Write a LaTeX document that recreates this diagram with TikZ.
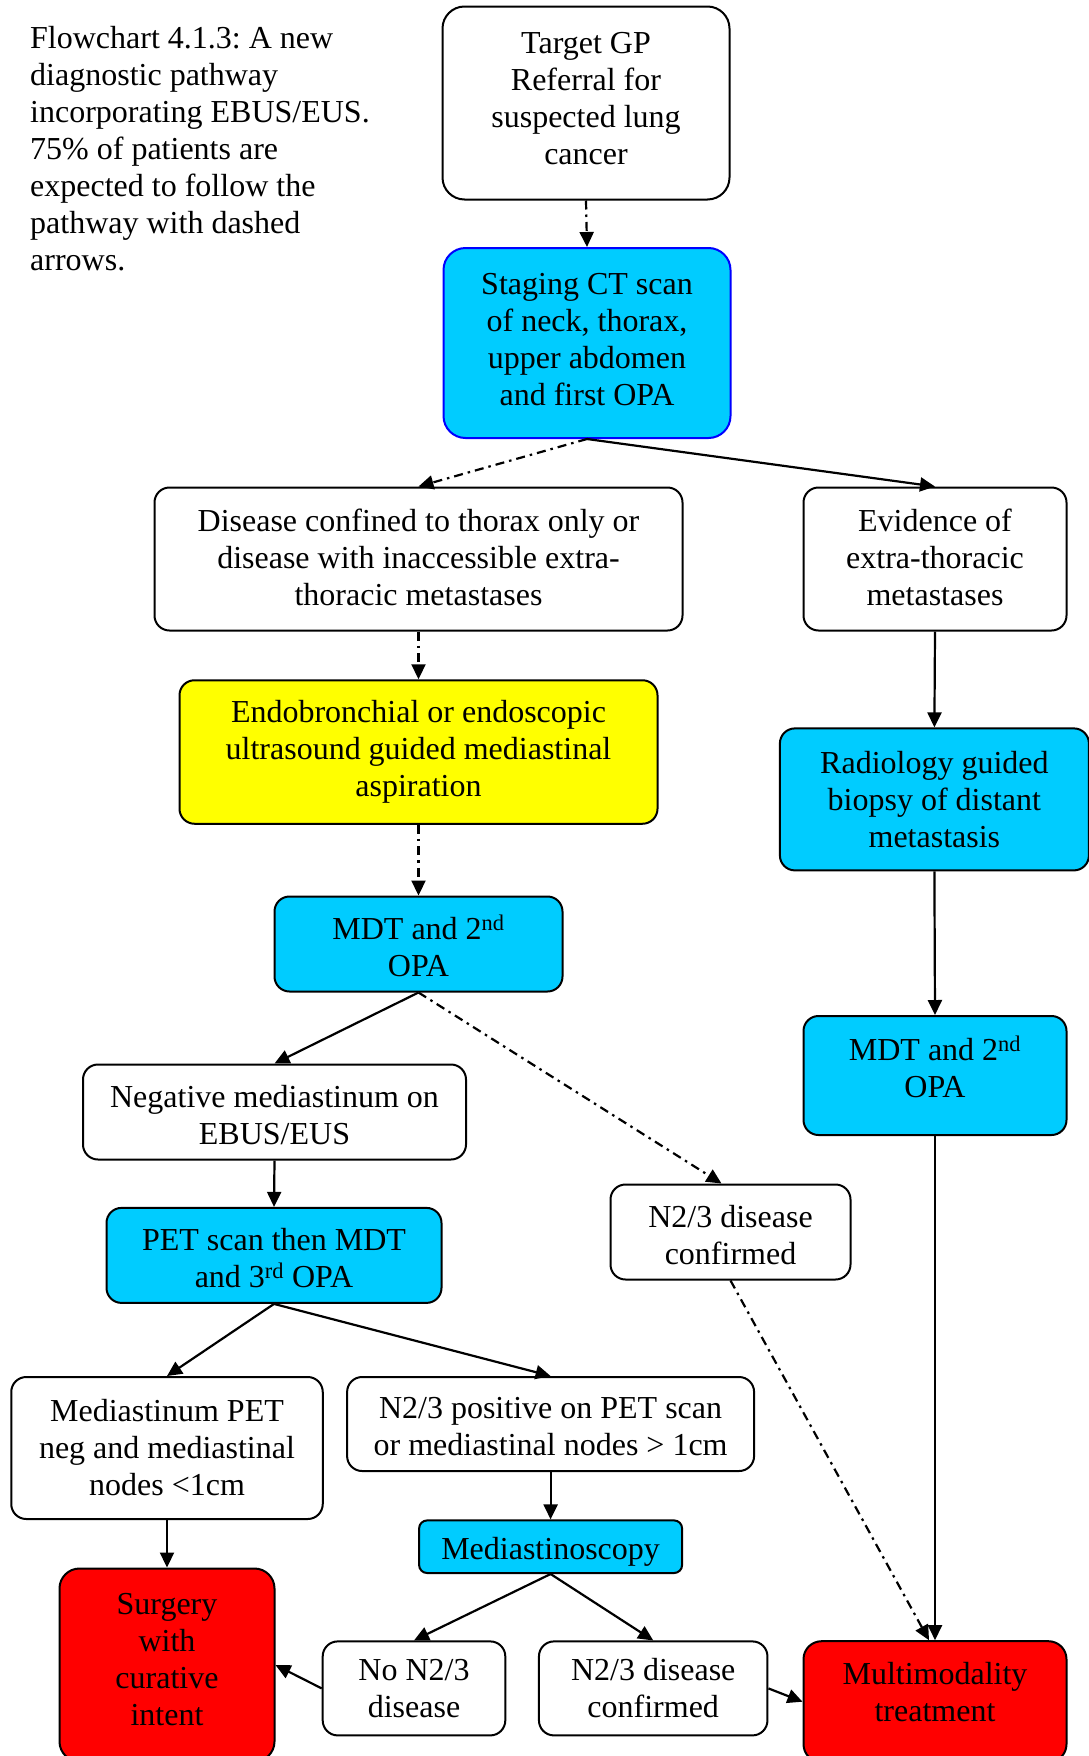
\documentclass[tikz,border=0pt]{standalone}
\usepackage{fontspec}
\setmainfont{Liberation Serif}
\usetikzlibrary{arrows.meta}
\definecolor{cyanfill}{RGB}{0,204,255}
\definecolor{yelfill}{RGB}{255,255,0}
\definecolor{redfill}{RGB}{255,0,0}
\definecolor{blueline}{RGB}{0,0,255}
\newcommand{\liftup}[2]{\raisebox{#1}[\height][\depth]{\begin{tabular}{@{}c@{}}#2\end{tabular}}}
\frenchspacing
\begin{document}
\begin{tikzpicture}[x=1pt,y=-1pt,
  txt/.style={font=\fontsize{32}{37}\selectfont\frenchspacing},
  box/.style={txt, draw=black, line width=2pt, rounded corners=15pt, inner sep=0pt, align=center, fill=white},
  bluebox/.style={box, fill=cyanfill},
  redbox/.style={box, fill=redfill, rounded corners=20pt},
  yelbox/.style={box, fill=yelfill},
  solidarrow/.style={line width=2.2pt, -{Triangle[length=15pt,width=14pt]}},
  dasharrow/.style={solidarrow, dash pattern=on 9pt off 5pt on 2.5pt off 5pt}]
\useasboundingbox (0,0) rectangle (1089,1756);
\clip (0,0) rectangle (1089,1756);

% caption
\node[txt, anchor=north west, align=left, inner sep=0pt] (caption) at (30,26.2)
  {Flowchart 4.1.3: A new\\diagnostic pathway\\incorporating EBUS/EUS.\\75\% of patients are\\expected to follow the\\pathway with dashed\\arrows.};

% boxes
\node[box, rounded corners=22pt, minimum width=287pt, minimum height=193pt] (target) at (586,103)
  {\liftup{1.1pt}{Target GP\\Referral for\\suspected lung\\cancer}};
\node[bluebox, draw=blueline, rounded corners=22pt, minimum width=287pt, minimum height=190pt] (staging) at (587,343)
  {\liftup{0.8pt}{Staging CT scan\\of neck, thorax,\\upper abdomen\\and first OPA}};
\node[box, minimum width=528pt, minimum height=143pt] (confined) at (418.5,559)
  {\liftup{-2.5pt}{Disease confined to thorax only or\\disease with inaccessible extra-\\thoracic metastases}};
\node[box, minimum width=263pt, minimum height=143pt] (evidence) at (935,559)
  {\liftup{-2.5pt}{Evidence of\\extra-thoracic\\metastases}};
\node[yelbox, minimum width=478pt, minimum height=143.5pt] (endo) at (418.5,752)
  {Endobronchial or endoscopic\\ultrasound guided mediastinal\\aspiration};
\node[bluebox, minimum width=309pt, minimum height=142pt] (radiology) at (934.4,799.4)
  {Radiology guided\\biopsy of distant\\metastasis};
\node[bluebox, minimum width=288pt, minimum height=95pt] (mdtL) at (418.5,944)
  {\liftup{-6.5pt}{MDT and 2\textsuperscript{nd}\\OPA}};
\node[bluebox, minimum width=263pt, minimum height=119pt] (mdtR) at (935,1075.5)
  {\liftup{4pt}{MDT and 2\textsuperscript{nd}\\OPA}};
\node[box, minimum width=383pt, minimum height=95pt] (negative) at (274.5,1112)
  {\liftup{-6.5pt}{Negative mediastinum on\\EBUS/EUS}};
\node[box, minimum width=240pt, minimum height=95pt] (n23mid) at (730.5,1232)
  {\liftup{-6.5pt}{N2/3 disease\\confirmed}};
\node[bluebox, minimum width=335pt, minimum height=95pt] (pet) at (274,1255.4)
  {\liftup{-6.5pt}{PET scan then MDT\\and 3\textsuperscript{rd} OPA}};
\node[box, minimum width=311.5pt, minimum height=142pt] (petneg) at (167,1448)
  {Mediastinum PET\\neg and mediastinal\\nodes <1cm};
\node[box, minimum width=407pt, minimum height=94pt] (n23pos) at (550.6,1424)
  {\liftup{-5.4pt}{N2/3 positive on PET scan\\or mediastinal nodes > 1cm}};
\node[bluebox, rounded corners=8pt, minimum width=263pt, minimum height=52.6pt] (medscopy) at (550.6,1546.7)
  {\liftup{-5pt}{Mediastinoscopy}};
\node[redbox, minimum width=215pt, minimum height=193pt] (surgery) at (167,1665)
  {\liftup{2pt}{Surgery\\with\\curative\\intent}};
\node[box, minimum width=182.6pt, minimum height=94pt] (non23) at (414,1688.4)
  {No N2/3\\disease};
\node[box, minimum width=228.5pt, minimum height=94pt] (n23bot) at (653.2,1688.4)
  {N2/3 disease\\confirmed};
\node[redbox, rounded corners=18pt, minimum width=263pt, minimum height=121pt] (multi) at (935,1701.7)
  {\liftup{6pt}{Multimodality\\treatment}};

% connectors
\draw[dasharrow] (target.south) -- (staging.north);
\draw[dasharrow] (staging.south) -- (confined.north);
\draw[solidarrow] (staging.south) -- (evidence.north);
\draw[dasharrow] (confined.south) -- (endo.north);
\draw[dasharrow] (endo.south) -- (mdtL.north);
\draw[solidarrow] (evidence.south) -- (radiology.north);
\draw[solidarrow] (radiology.south) -- (mdtR.north);
\draw[solidarrow] (mdtR.south) -- (multi.north);
\draw[solidarrow] (mdtL.south) -- (negative.north);
\draw[dasharrow] (mdtL.south) -- ([xshift=-9pt]n23mid.north);
\draw[solidarrow] (negative.south) -- (pet.north);
\draw[solidarrow] (pet.south) -- (petneg.north);
\draw[solidarrow] (pet.south) -- (n23pos.north);
\draw[solidarrow] (n23pos.south) -- (medscopy.north);
\draw[solidarrow] (petneg.south) -- (surgery.north);
\draw[solidarrow] (medscopy.south) -- (non23.north);
\draw[solidarrow] (medscopy.south) -- (n23bot.north);
\draw[solidarrow] (non23.west) -- (surgery.east);
\draw[solidarrow] (n23bot.east) -- (multi.west);
\draw[dasharrow] (n23mid.south) -- ([xshift=-6pt]multi.north);
\end{tikzpicture}
\end{document}
